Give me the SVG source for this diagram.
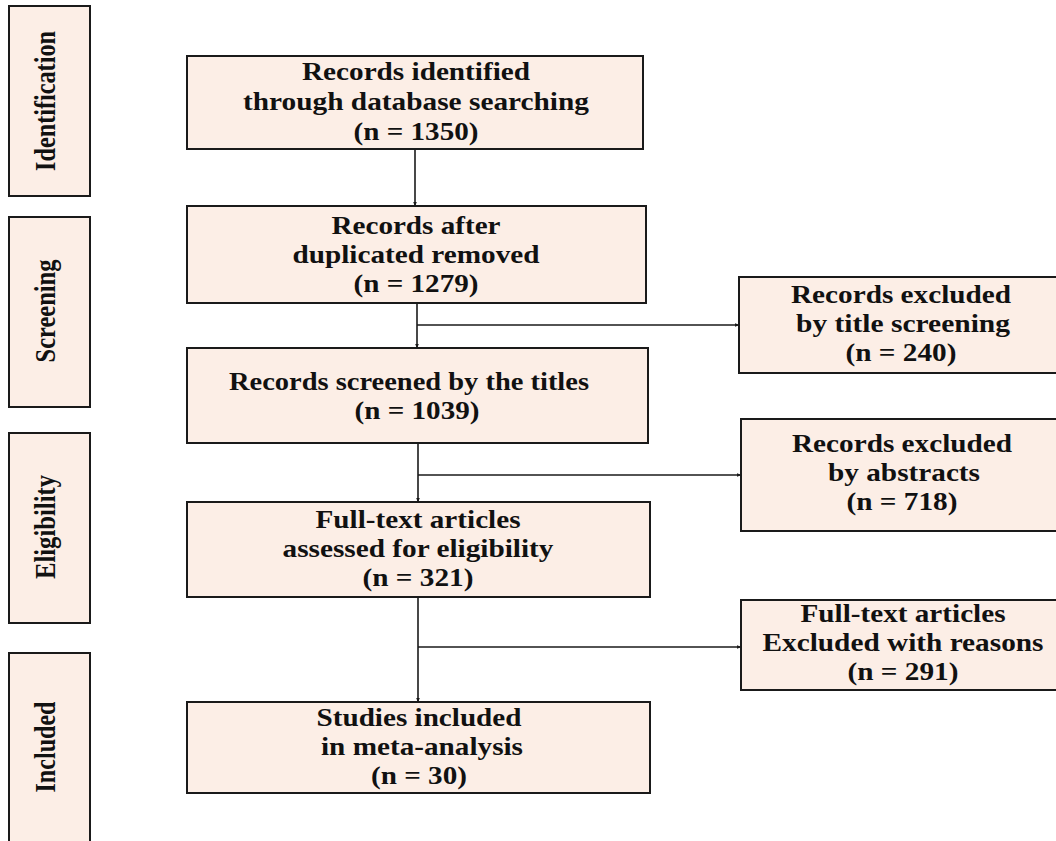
<svg xmlns="http://www.w3.org/2000/svg" width="1056" height="841" viewBox="0 0 1056 841">
<style>
.box{fill:#FCEEE6;stroke:#1a1a1a;stroke-width:2}
.t{font-family:"Liberation Serif","Times New Roman",serif;font-weight:bold;font-size:25px;fill:#111;text-anchor:middle}
.s{font-family:"Liberation Serif","Times New Roman",serif;font-weight:bold;font-size:29px;fill:#111;text-anchor:middle}
.c{stroke:#1a1a1a;stroke-width:1.6;fill:none}
</style>
<defs>
<marker id="ah" markerWidth="5" markerHeight="5" refX="4.5" refY="2.5" orient="auto" markerUnits="userSpaceOnUse">
<path d="M0,0.5 L5,2.5 L0,4.5 Z" fill="#1a1a1a"/>
</marker>
</defs>
<rect width="1056" height="841" fill="#ffffff"/>

<g id="stage-identification">
<rect class="box" x="9" y="6" width="81" height="190"/>
<text class="s" transform="translate(55,101) rotate(-90)" textLength="140" lengthAdjust="spacingAndGlyphs">Identification</text>
</g>
<g id="stage-screening">
<rect class="box" x="9" y="217" width="81" height="190"/>
<text class="s" transform="translate(55,311) rotate(-90)" textLength="103" lengthAdjust="spacingAndGlyphs">Screening</text>
</g>
<g id="stage-eligibility">
<rect class="box" x="9" y="433" width="81" height="190"/>
<text class="s" transform="translate(55,527) rotate(-90)" textLength="104" lengthAdjust="spacingAndGlyphs">Eligibility</text>
</g>
<g id="stage-included">
<rect class="box" x="9" y="653" width="81" height="192"/>
<text class="s" transform="translate(55,747) rotate(-90)" textLength="91" lengthAdjust="spacingAndGlyphs">Included</text>
</g>

<g id="identified">
<rect class="box" x="187" y="56" width="456" height="93"/>
<text class="t" x="416" y="80" textLength="228" lengthAdjust="spacingAndGlyphs">Records identified</text>
<text class="t" x="416" y="110" textLength="346" lengthAdjust="spacingAndGlyphs">through database searching</text>
<text class="t" x="416" y="140" textLength="125" lengthAdjust="spacingAndGlyphs">(n = 1350)</text>
</g>
<g id="after-duplicates">
<rect class="box" x="187" y="206" width="459" height="97"/>
<text class="t" x="416" y="234" textLength="169" lengthAdjust="spacingAndGlyphs">Records after</text>
<text class="t" x="416" y="263" textLength="247" lengthAdjust="spacingAndGlyphs">duplicated removed</text>
<text class="t" x="416" y="292" textLength="125" lengthAdjust="spacingAndGlyphs">(n = 1279)</text>
</g>
<g id="screened">
<rect class="box" x="187" y="348" width="461" height="95"/>
<text class="t" x="409" y="390" textLength="360" lengthAdjust="spacingAndGlyphs">Records screened by the titles</text>
<text class="t" x="417" y="419" textLength="125" lengthAdjust="spacingAndGlyphs">(n = 1039)</text>
</g>
<g id="full-text">
<rect class="box" x="187" y="502" width="463" height="95"/>
<text class="t" x="418" y="528" textLength="205" lengthAdjust="spacingAndGlyphs">Full-text articles</text>
<text class="t" x="418" y="557" textLength="271" lengthAdjust="spacingAndGlyphs">assessed for eligibility</text>
<text class="t" x="418" y="586" textLength="111" lengthAdjust="spacingAndGlyphs">(n = 321)</text>
</g>
<g id="included">
<rect class="box" x="187" y="702" width="463" height="91"/>
<text class="t" x="419" y="726" textLength="205" lengthAdjust="spacingAndGlyphs">Studies included</text>
<text class="t" x="422" y="755" textLength="202" lengthAdjust="spacingAndGlyphs">in meta-analysis</text>
<text class="t" x="419" y="784" textLength="96" lengthAdjust="spacingAndGlyphs">(n = 30)</text>
</g>

<g id="excluded-title">
<rect class="box" x="739" y="277" width="318" height="96"/>
<text class="t" x="901" y="303" textLength="220" lengthAdjust="spacingAndGlyphs">Records excluded</text>
<text class="t" x="903" y="332" textLength="214" lengthAdjust="spacingAndGlyphs">by title screening</text>
<text class="t" x="901" y="361" textLength="111" lengthAdjust="spacingAndGlyphs">(n = 240)</text>
</g>
<g id="excluded-abstracts">
<rect class="box" x="741" y="419" width="316" height="112"/>
<text class="t" x="902" y="452" textLength="220" lengthAdjust="spacingAndGlyphs">Records excluded</text>
<text class="t" x="904" y="481" textLength="152" lengthAdjust="spacingAndGlyphs">by abstracts</text>
<text class="t" x="902" y="510" textLength="111" lengthAdjust="spacingAndGlyphs">(n = 718)</text>
</g>
<g id="excluded-reasons">
<rect class="box" x="741" y="600" width="316" height="90"/>
<text class="t" x="903" y="622" textLength="205" lengthAdjust="spacingAndGlyphs">Full-text articles</text>
<text class="t" x="903" y="651" textLength="281" lengthAdjust="spacingAndGlyphs">Excluded with reasons</text>
<text class="t" x="903" y="680" textLength="111" lengthAdjust="spacingAndGlyphs">(n = 291)</text>
</g>

<g id="connectors">
<line class="c" x1="415" y1="149" x2="415" y2="206" marker-end="url(#ah)"/>
<line class="c" x1="417" y1="303" x2="417" y2="348" marker-end="url(#ah)"/>
<line class="c" x1="417" y1="325" x2="739" y2="325" marker-end="url(#ah)"/>
<line class="c" x1="418" y1="443" x2="418" y2="502" marker-end="url(#ah)"/>
<line class="c" x1="418" y1="475" x2="741" y2="475" marker-end="url(#ah)"/>
<line class="c" x1="418" y1="597" x2="418" y2="702" marker-end="url(#ah)"/>
<line class="c" x1="418" y1="647" x2="741" y2="647" marker-end="url(#ah)"/>
</g>
</svg>
